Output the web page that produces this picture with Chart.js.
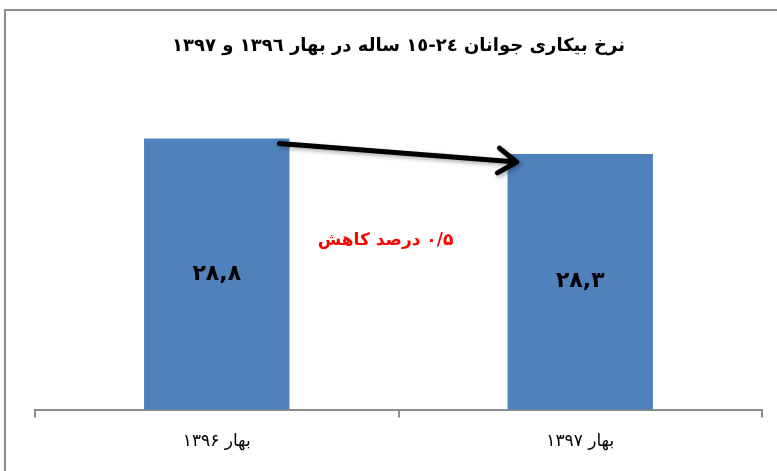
<!DOCTYPE html>
<html>
<head>
<meta charset="utf-8">
<script src="https://cdn.jsdelivr.net/npm/chart.js@4/dist/chart.umd.min.js"></script>
<style>
  html, body { margin: 0; padding: 0; background: #fff; overflow: hidden; }
  #wrap { width: 777px; height: 471px; }
  #myChart { direction: rtl; }
</style>
</head>
<body>
<div id="wrap"><canvas id="myChart" width="777" height="471"></canvas></div>
<script>
var categories = ["بهار ۱۳۹۶", "بهار ۱۳۹۷"];
var values = [28.8, 28.3];
var valueLabels = ["۲۸,۸", "۲۸,۳"];
var changeLabel = "۰/۵ درصد کاهش";
var titleText = "نرخ بیکاری جوانان ٢٤-١٥ ساله در بهار ١٣٩٦ و ١٣٩٧";
var yMin = 20;
var yMax = 30;

var FONT = "'DejaVu Sans', sans-serif";

// frame lines, value labels, red note and the arrow
var extras = {
  id: "extras",
  beforeDraw: function (chart) {
    var ctx = chart.ctx;
    ctx.save();
    ctx.fillStyle = "#fff";
    ctx.fillRect(0, 0, chart.width, chart.height);
    ctx.fillStyle = "#8c8c8c";
    ctx.fillRect(4, 9, 2, chart.height);
    ctx.fillRect(4, 9, chart.width, 2);
    ctx.restore();
  },
  afterDatasetsDraw: function (chart) {
    var ctx = chart.ctx;
    var y = chart.scales.y;
    var bars = chart.getDatasetMeta(0).data;
    var basePx = y.getPixelForValue(yMin);
    ctx.save();
    ctx.textAlign = "center";
    ctx.textBaseline = "middle";
    ctx.fillStyle = "#000";
    ctx.font = "bold 22px " + FONT;
    bars.forEach(function (b, i) {
      var top = y.getPixelForValue(values[i]);
      ctx.fillText(valueLabels[i], b.x, (top + basePx) / 2);
    });

    ctx.fillStyle = "#ff0000";
    ctx.font = "bold 17px " + FONT;
    ctx.fillText(changeLabel, (bars[0].x + bars[1].x) / 2 - 13, y.getPixelForValue(25.5));

    // arrow from the first bar top to the second
    var b0 = bars[0], b1 = bars[1];
    var t0 = y.getPixelForValue(values[0]), t1 = y.getPixelForValue(values[1]);
    var x1 = b0.x + b0.width / 2 - 10, y1 = t0 + 5;
    var x2 = b1.x - b1.width / 2 + 9, y2 = t1 + 8;
    var ang = Math.atan2(y2 - y1, x2 - x1);
    ctx.shadowColor = "rgba(0,0,0,0.35)";
    ctx.shadowBlur = 4;
    ctx.shadowOffsetX = 2;
    ctx.shadowOffsetY = 2;
    ctx.strokeStyle = "#000";
    ctx.lineWidth = 5;
    ctx.lineCap = "round";
    ctx.lineJoin = "round";
    ctx.beginPath();
    ctx.moveTo(x1, y1);
    ctx.lineTo(x2, y2);
    ctx.moveTo(x2 - 22 * Math.cos(ang - 0.6), y2 - 22 * Math.sin(ang - 0.6));
    ctx.lineTo(x2, y2);
    ctx.lineTo(x2 - 22 * Math.cos(ang + 0.6), y2 - 22 * Math.sin(ang + 0.6));
    ctx.stroke();
    ctx.restore();
  }
};

new Chart("myChart", {
  type: "bar",
  data: {
    labels: categories,
    datasets: [{
      data: values,
      backgroundColor: "#4f81bd",
      borderWidth: 0,
      categoryPercentage: 1,
      barPercentage: 0.4
    }]
  },
  options: {
    responsive: false,
    animation: false,
    layout: { padding: { left: 35, right: 15, top: 0, bottom: 5 } },
    plugins: {
      legend: { display: false },
      tooltip: { enabled: false },
      title: {
        display: true,
        text: titleText,
        color: "#000",
        font: { family: FONT, size: 18, weight: "bold" },
        padding: { top: 36, bottom: 44 }
      }
    },
    scales: {
      y: {
        display: false,
        min: yMin,
        max: yMax
      },
      x: {
        offset: true,
        grid: {
          offset: true,
          drawOnChartArea: false,
          drawTicks: true,
          tickLength: 8,
          color: "#8c8c8c",
          lineWidth: 2
        },
        border: { color: "#8c8c8c", width: 2 },
        ticks: {
          color: "#000",
          padding: 14,
          font: { family: FONT, size: 17 }
        }
      }
    }
  },
  plugins: [extras]
});
</script>
</body>
</html>
